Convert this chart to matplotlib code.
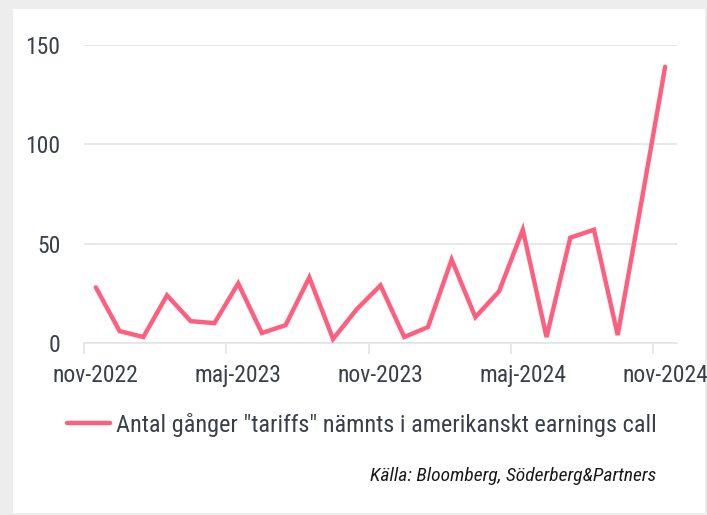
import matplotlib
matplotlib.use("Agg")
import matplotlib.pyplot as plt
from matplotlib.patches import Rectangle
import numpy as np

# --- data ---
months = ["nov-2022", "dec-2022", "jan-2023", "feb-2023", "mar-2023", "apr-2023",
          "maj-2023", "jun-2023", "jul-2023", "aug-2023", "sep-2023", "okt-2023",
          "nov-2023", "dec-2023", "jan-2024", "feb-2024", "mar-2024", "apr-2024",
          "maj-2024", "jun-2024", "jul-2024", "aug-2024", "sep-2024", "okt-2024",
          "nov-2024"]
mentions = [28, 6, 3, 24, 11, 10, 30, 5, 9, 33, 2, 17, 29,
            3, 8, 42, 13, 26, 57, 3, 53, 57, 4, 71, 139]
label_every = 6
series_name = 'Antal gånger "tariffs" nämnts i amerikanskt earnings call'
source = "Källa: Bloomberg, Söderberg&Partners"

# --- style ---
line_col = "#ff5f7e"
text_col = "#3b3f4c"
grid_col = "#e3e3ea"
plt.rcParams['font.family'] = ['Roboto Condensed', 'Roboto', 'DejaVu Sans']

W, H = 707, 515
fig = plt.figure(figsize=(W / 100, H / 100), dpi=100, facecolor="#ededed")
fig.add_artist(Rectangle((13 / W, 2 / H), 692 / W, 504 / H,
                         transform=fig.transFigure, facecolor="white",
                         edgecolor="none", zorder=-5))

ax = fig.add_axes([84 / W, (H - 343) / H, 593 / W, 298 / H])
ax.set_facecolor("none")
ax.set_zorder(2)

x = np.arange(len(months))
ax.plot(x, mentions, color=line_col, lw=3.2, solid_joinstyle="miter",
        solid_capstyle="round", label=series_name, zorder=3, clip_on=False)

ax.set_xlim(-0.5, len(months) - 0.5)
ax.set_ylim(0, 150)
ax.set_yticks([0, 50, 100, 150])
# tick marks on month boundaries, labels centred on the month
tick_idx = x[::label_every]
ax.set_xticks(tick_idx - 0.5)
ax.set_xticklabels([])
ax.set_xticks(tick_idx, minor=True)
ax.set_xticklabels([months[i] for i in tick_idx], minor=True)

ax.grid(axis="y", color=grid_col, lw=1.2, zorder=0)
for s in ["top", "right", "left"]:
    ax.spines[s].set_visible(False)
ax.spines["bottom"].set_color(grid_col)
ax.spines["bottom"].set_linewidth(1.2)
ax.tick_params(axis="y", length=0, pad=17, labelsize=17, labelcolor=text_col)
ax.tick_params(axis="x", which="major", length=8, width=1.2, color=grid_col)
ax.tick_params(axis="x", which="minor", length=0, pad=15,
               labelsize=17, labelcolor=text_col)

leg = fig.legend(loc="center", bbox_to_anchor=(362 / W, (H - 425) / H),
                 frameon=False, fontsize=17.5, handlelength=1.75, handletextpad=0.25,
                 labelcolor=text_col)

fig.text(656 / W, (H - 476) / H, source, ha="right", va="center",
         fontsize=14, style="italic", color="#1a1a1a")

fig.savefig("out.png", dpi=100, facecolor=fig.get_facecolor())
